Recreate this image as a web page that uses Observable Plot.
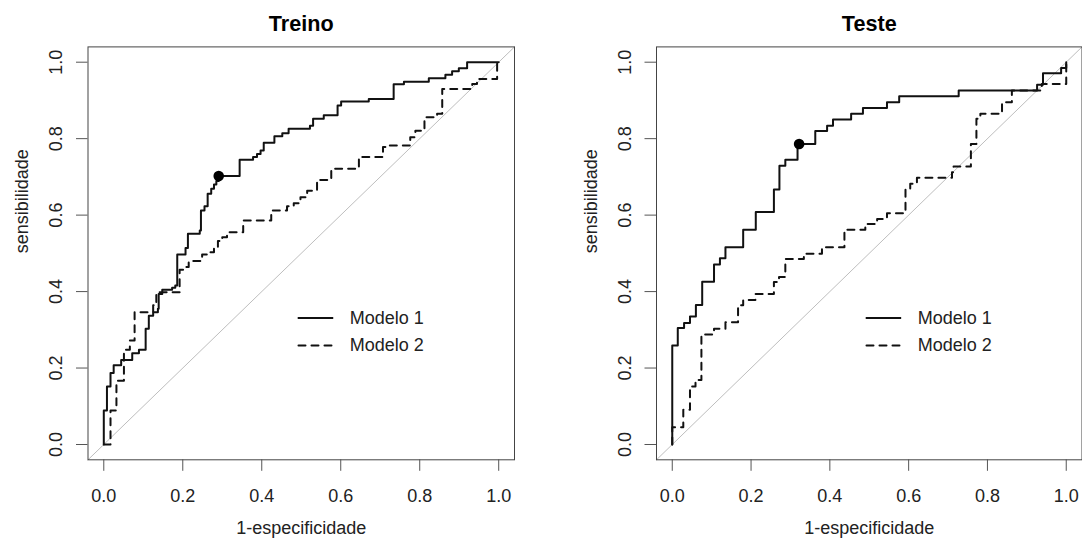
<!DOCTYPE html>
<html>
<head>
<meta charset="utf-8">
<script src="https://cdn.jsdelivr.net/npm/d3@7"></script>
<script src="https://cdn.jsdelivr.net/npm/@observablehq/plot@0.6"></script>
<style>
  html, body { margin: 0; padding: 0; background: #fff; }
  #chart { display: flex; width: 1082px; height: 540px; overflow: hidden; }
</style>
</head>
<body>
<div id="chart"></div>
<script>
// ---- data ----
const panelTitles = ["Treino", "Teste"];
const seriesNames = ["Modelo 1", "Modelo 2"];
const xLabel = "1-especificidade";
const yLabel = "sensibilidade";
const axisTicks = [0, 0.2, 0.4, 0.6, 0.8, 1.0];

// Treino - Modelo 1
const treinoM1Fpr = [0, 0, 0.008, 0.017, 0.025, 0.044, 0.072, 0.089, 0.106, 0.114, 0.125, 0.137, 0.139, 0.148, 0.173, 0.181, 0.186, 0.207, 0.213, 0.243, 0.246, 0.255, 0.263, 0.272, 0.279, 0.285, 0.291, 0.344, 0.378, 0.388, 0.397, 0.405, 0.432, 0.452, 0.468, 0.522, 0.530, 0.557, 0.592, 0.601, 0.671, 0.734, 0.760, 0.823, 0.865, 0.882, 0.899, 0.920, 1];
const treinoM1Tpr = [0, 0.089, 0.152, 0.187, 0.207, 0.221, 0.239, 0.248, 0.303, 0.337, 0.346, 0.355, 0.394, 0.405, 0.410, 0.416, 0.497, 0.514, 0.551, 0.560, 0.612, 0.623, 0.656, 0.669, 0.680, 0.689, 0.702, 0.745, 0.752, 0.760, 0.769, 0.789, 0.806, 0.814, 0.826, 0.834, 0.852, 0.861, 0.887, 0.897, 0.904, 0.942, 0.949, 0.958, 0.967, 0.976, 0.984, 1, 1];
// Treino - Modelo 2
const treinoM2Fpr = [0, 0.017, 0.032, 0.051, 0.066, 0.078, 0.125, 0.133, 0.192, 0.209, 0.215, 0.249, 0.266, 0.279, 0.289, 0.300, 0.312, 0.353, 0.424, 0.464, 0.481, 0.498, 0.515, 0.540, 0.576, 0.646, 0.707, 0.722, 0.776, 0.789, 0.812, 0.844, 0.857, 0.933, 0.945, 0.996, 1];
const treinoM2Tpr = [0, 0.089, 0.167, 0.248, 0.272, 0.346, 0.364, 0.398, 0.457, 0.464, 0.480, 0.497, 0.503, 0.514, 0.532, 0.542, 0.555, 0.586, 0.612, 0.623, 0.631, 0.647, 0.664, 0.692, 0.721, 0.752, 0.778, 0.782, 0.804, 0.821, 0.856, 0.865, 0.930, 0.943, 0.956, 1, 1];
// Teste - Modelo 1
const testeM1Fpr = [0, 0, 0.014, 0.030, 0.045, 0.060, 0.076, 0.106, 0.121, 0.135, 0.180, 0.212, 0.258, 0.272, 0.287, 0.318, 0.363, 0.393, 0.408, 0.454, 0.484, 0.545, 0.576, 0.727, 0.926, 0.941, 0.987, 1];
const testeM1Tpr = [0, 0.259, 0.305, 0.318, 0.335, 0.365, 0.426, 0.471, 0.487, 0.516, 0.562, 0.608, 0.667, 0.729, 0.745, 0.786, 0.820, 0.834, 0.850, 0.865, 0.880, 0.895, 0.911, 0.926, 0.941, 0.971, 0.985, 1];
// Teste - Modelo 2
const testeM2Fpr = [0, 0, 0.028, 0.045, 0.059, 0.074, 0.106, 0.135, 0.167, 0.180, 0.211, 0.258, 0.271, 0.287, 0.334, 0.380, 0.437, 0.490, 0.520, 0.545, 0.592, 0.604, 0.621, 0.710, 0.714, 0.758, 0.772, 0.782, 0.837, 0.862, 0.938, 1, 1];
const testeM2Tpr = [0, 0.045, 0.091, 0.152, 0.169, 0.288, 0.303, 0.320, 0.364, 0.378, 0.394, 0.425, 0.438, 0.485, 0.499, 0.516, 0.562, 0.577, 0.590, 0.605, 0.669, 0.682, 0.698, 0.712, 0.727, 0.786, 0.852, 0.865, 0.895, 0.926, 0.943, 0.970, 1];
// optimal cut-off points (Modelo 1)
const cutFpr = [0.291, 0.322];
const cutTpr = [0.702, 0.786];

// ---- build ----
const rows = (fpr, tpr) => fpr.map((x, i) => ({x, y: tpr[i]}));
const domain = [-0.04, 1.04];
const FONT = "'Liberation Sans', Arial, Helvetica, sans-serif";
const INK = "#111";
const DASH = "7,6";

function panel(i, m1, m2, margins) {
  const legendRows = seriesNames.map((name, k) => ({name, k}));
  const legY = [0.331, 0.259];
  return Plot.plot({
    width: 541,
    height: 540,
    marginTop: 46.4,
    marginBottom: 80.7,
    marginLeft: margins.left,
    marginRight: margins.right,
    style: {fontFamily: FONT, fontSize: "18px", color: "#000", background: "#fff", overflow: "visible"},
    x: {domain, axis: null},
    y: {domain, axis: null},
    marks: [
      Plot.line(domain, {x: d => d, y: d => d, stroke: "#bebebe", strokeWidth: 1}),
      Plot.line(rows(m2[0], m2[1]), {x: "x", y: "y", curve: "step-after", stroke: INK, strokeWidth: 2, strokeDasharray: DASH, strokeLinecap: "round"}),
      Plot.line(rows(m1[0], m1[1]), {x: "x", y: "y", curve: "step-after", stroke: INK, strokeWidth: 2}),
      Plot.dot([{x: cutFpr[i], y: cutTpr[i]}], {x: "x", y: "y", r: 5.3, fill: "#000", stroke: null}),
      Plot.frame({stroke: "#444", strokeWidth: 1}),
      Plot.axisX(axisTicks, {tickSize: 11.5, tickPadding: 17.5, tickFormat: d3.format(".1f"), stroke: "#555", fill: "#222", label: null}),
      Plot.axisY(axisTicks, {tickSize: 11.5, tickPadding: 14.5, tickRotate: -90, tickFormat: d3.format(".1f"), stroke: "#555", fill: "#222", label: null}),
      // legend
      Plot.link([legendRows[0]], {x1: () => 0.491, x2: () => 0.581, y1: () => legY[0], y2: () => legY[0], stroke: INK, strokeWidth: 2}),
      Plot.link([legendRows[1]], {x1: () => 0.493, x2: () => 0.581, y1: () => legY[1], y2: () => legY[1], stroke: INK, strokeWidth: 2, strokeDasharray: DASH, strokeLinecap: "round"}),
      Plot.text(legendRows, {x: () => 0.623, y: d => legY[d.k], text: "name", textAnchor: "start", fill: "#222", fontSize: 18}),
      // title and axis titles
      Plot.text([panelTitles[i]], {frameAnchor: "top", dy: -16.4, lineAnchor: "bottom", fontWeight: "bold", fontSize: 21.6, fill: "#000"}),
      Plot.text([xLabel], {frameAnchor: "bottom", dy: 74.5, lineAnchor: "bottom", fontSize: 18, fill: "#222"}),
      Plot.text([yLabel], {frameAnchor: "left", dx: -60, rotate: -90, lineAnchor: "bottom", fontSize: 18, fill: "#222"})
    ]
  });
}

const root = document.getElementById("chart");
root.appendChild(panel(0, [treinoM1Fpr, treinoM1Tpr], [treinoM2Fpr, treinoM2Tpr], {left: 87.5, right: 27}));
root.appendChild(panel(1, [testeM1Fpr, testeM1Tpr], [testeM2Fpr, testeM2Tpr], {left: 115, right: 0.5}));
</script>
</body>
</html>
